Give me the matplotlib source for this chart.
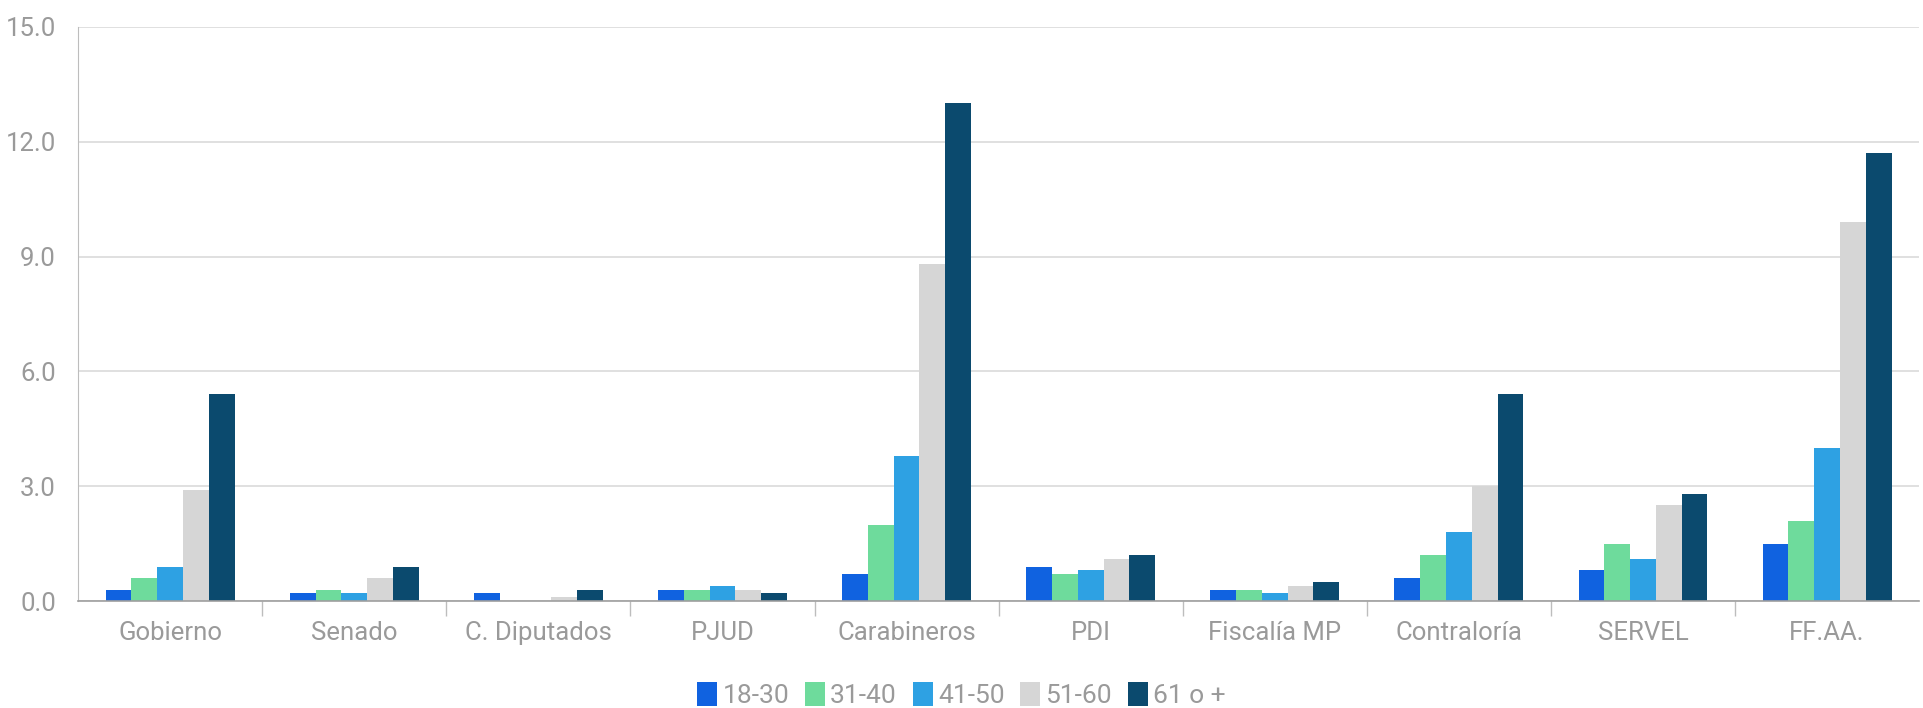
import matplotlib
matplotlib.use("Agg")
import matplotlib.pyplot as plt
import numpy as np
from matplotlib.patches import Patch

categories = ["Gobierno", "Senado", "C. Diputados", "PJUD", "Carabineros",
              "PDI", "Fiscalía MP", "Contraloría", "SERVEL", "FF.AA."]
series_names = ["18-30", "31-40", "41-50", "51-60", "61 o +"]
v_18_30 = [0.3, 0.2, 0.2, 0.3, 0.7, 0.9, 0.3, 0.6, 0.8, 1.5]
v_31_40 = [0.6, 0.3, 0.0, 0.3, 2.0, 0.7, 0.3, 1.2, 1.5, 2.1]
v_41_50 = [0.9, 0.2, 0.0, 0.4, 3.8, 0.8, 0.2, 1.8, 1.1, 4.0]
v_51_60 = [2.9, 0.6, 0.1, 0.3, 8.8, 1.1, 0.4, 3.0, 2.5, 9.9]
v_61_mas = [5.4, 0.9, 0.3, 0.2, 13.0, 1.2, 0.5, 5.4, 2.8, 11.7]
yticks = [0.0, 3.0, 6.0, 9.0, 12.0, 15.0]

series = [v_18_30, v_31_40, v_41_50, v_51_60, v_61_mas]
colors = ["#1062E0", "#6EDB9C", "#2EA1E3", "#D6D6D6", "#0B4A6E"]
text_color = "#9A9A9A"

plt.rcParams['font.family'] = ['Roboto', 'DejaVu Sans']
fig = plt.figure(figsize=(19.23, 7.08), dpi=100)
ax = fig.add_axes([0.0406, 0.151, 0.9574, 0.811])

n = len(series)
group_w = 0.70
bw = group_w / n
x = np.arange(len(categories))
for i, (vals, c) in enumerate(zip(series, colors)):
    ax.bar(x - group_w / 2 + bw * (i + 0.5), vals, width=bw, color=c,
           label=series_names[i], zorder=3, linewidth=0)

ax.set_xlim(-0.5, len(categories) - 0.5)
ax.set_ylim(0, 15)
ax.set_yticks(yticks)
ax.set_yticklabels([f"{t:.1f}" for t in yticks])
ax.yaxis.grid(True, color="#DADADA", linewidth=1.2, zorder=0)
ax.tick_params(axis='y', length=0, labelsize=18.5, labelcolor=text_color, pad=16)

ax.set_xticks(x)
ax.set_xticklabels(categories)
ax.tick_params(axis='x', which='major', length=0, labelsize=18.5,
               labelcolor=text_color, pad=14)
ax.set_xticks(np.arange(0.5, len(categories) - 0.5, 1.0), minor=True)
ax.tick_params(axis='x', which='minor', length=11, color="#BDBDBD", width=1)

for s in ["top", "right"]:
    ax.spines[s].set_visible(False)
ax.spines["left"].set_color("#BDBDBD")
ax.spines["bottom"].set_color("#9E9E9E")
ax.spines["bottom"].set_linewidth(1.2)
ax.spines["bottom"].set_zorder(4)

handles = [Patch(facecolor=c, edgecolor='none', label=nm) for c, nm in zip(colors, series_names)]
leg = fig.legend(handles=handles, loc="center", bbox_to_anchor=(0.5, 0.018), ncol=5,
                 frameon=False, fontsize=19, handlelength=0.75, handleheight=1.0,
                 handletextpad=0.2, columnspacing=0.6)
for t in leg.get_texts():
    t.set_color(text_color)

fig.savefig("out.png", dpi=100, facecolor="white")
